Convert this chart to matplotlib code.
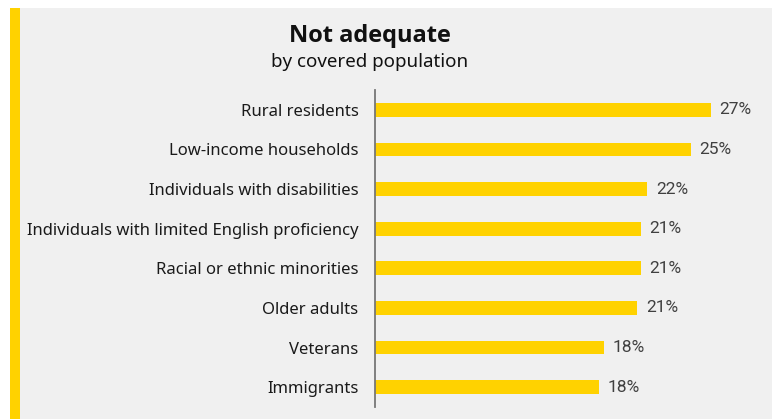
import matplotlib.pyplot as plt
from matplotlib.patches import Rectangle

groups = ['Rural residents', 'Low-income households', 'Individuals with disabilities',
          'Individuals with limited English proficiency', 'Racial or ethnic minorities',
          'Older adults', 'Veterans', 'Immigrants']
not_adequate = [27.0, 25.4, 21.9, 21.4, 21.4, 21.1, 18.4, 18.0]

W, H = 772, 419
BG = '#f0f0f0'
GOLD = '#ffd200'

plt.rcParams['font.family'] = ['Noto Sans', 'DejaVu Sans']

fig = plt.figure(figsize=(W / 100, H / 100), dpi=100)
fig.patch.set_facecolor('white')

# grey panel with the gold stripe on its left edge
fig.patches.append(Rectangle((10 / W, 0), 1 - 10 / W, 1 - 8 / H, transform=fig.transFigure,
                             facecolor=BG, edgecolor='none', zorder=-3))
fig.patches.append(Rectangle((10 / W, 0), 9.5 / W, 1 - 8 / H, transform=fig.transFigure,
                             facecolor=GOLD, edgecolor='none', zorder=-2))

x0, x1 = 374.5, 374.5 + 30 * 12.45
y_top, y_bot = 90, 407
ax = fig.add_axes([x0 / W, 1 - y_bot / H, (x1 - x0) / W, (y_bot - y_top) / H])
ax.set_facecolor('none')

pos = range(len(groups))
ax.barh(pos, not_adequate, height=0.35, color=GOLD, zorder=2)
ax.set_xlim(0, 30)
ax.set_ylim(len(groups) - 0.5, -0.5)

for i, v in enumerate(not_adequate):
    ax.text(v + 0.7, i, f'{v:.0f}%', va='center', ha='left', fontsize=12.5,
            family=['Roboto', 'DejaVu Sans'], color='#404040')

ax.set_yticks(list(pos))
ax.set_yticklabels(groups, fontsize=12, color='#1a1a1a')
ax.tick_params(axis='y', length=0, pad=11.5)
ax.set_xticks([])
for side in ['top', 'right', 'bottom']:
    ax.spines[side].set_visible(False)
ax.spines['left'].set_color('#777777')
ax.spines['left'].set_linewidth(1.3)

fig.text(370 / W, 1 - 36 / H, 'Not adequate', ha='center', va='center',
         fontsize=17, fontweight='bold', family=['Open Sans', 'DejaVu Sans'], color='#111111')
fig.text(370 / W, 1 - 62 / H, 'by covered population', ha='center', va='center',
         fontsize=13.5, color='#111111')

fig.savefig('out.png', dpi=100, facecolor=fig.get_facecolor())
